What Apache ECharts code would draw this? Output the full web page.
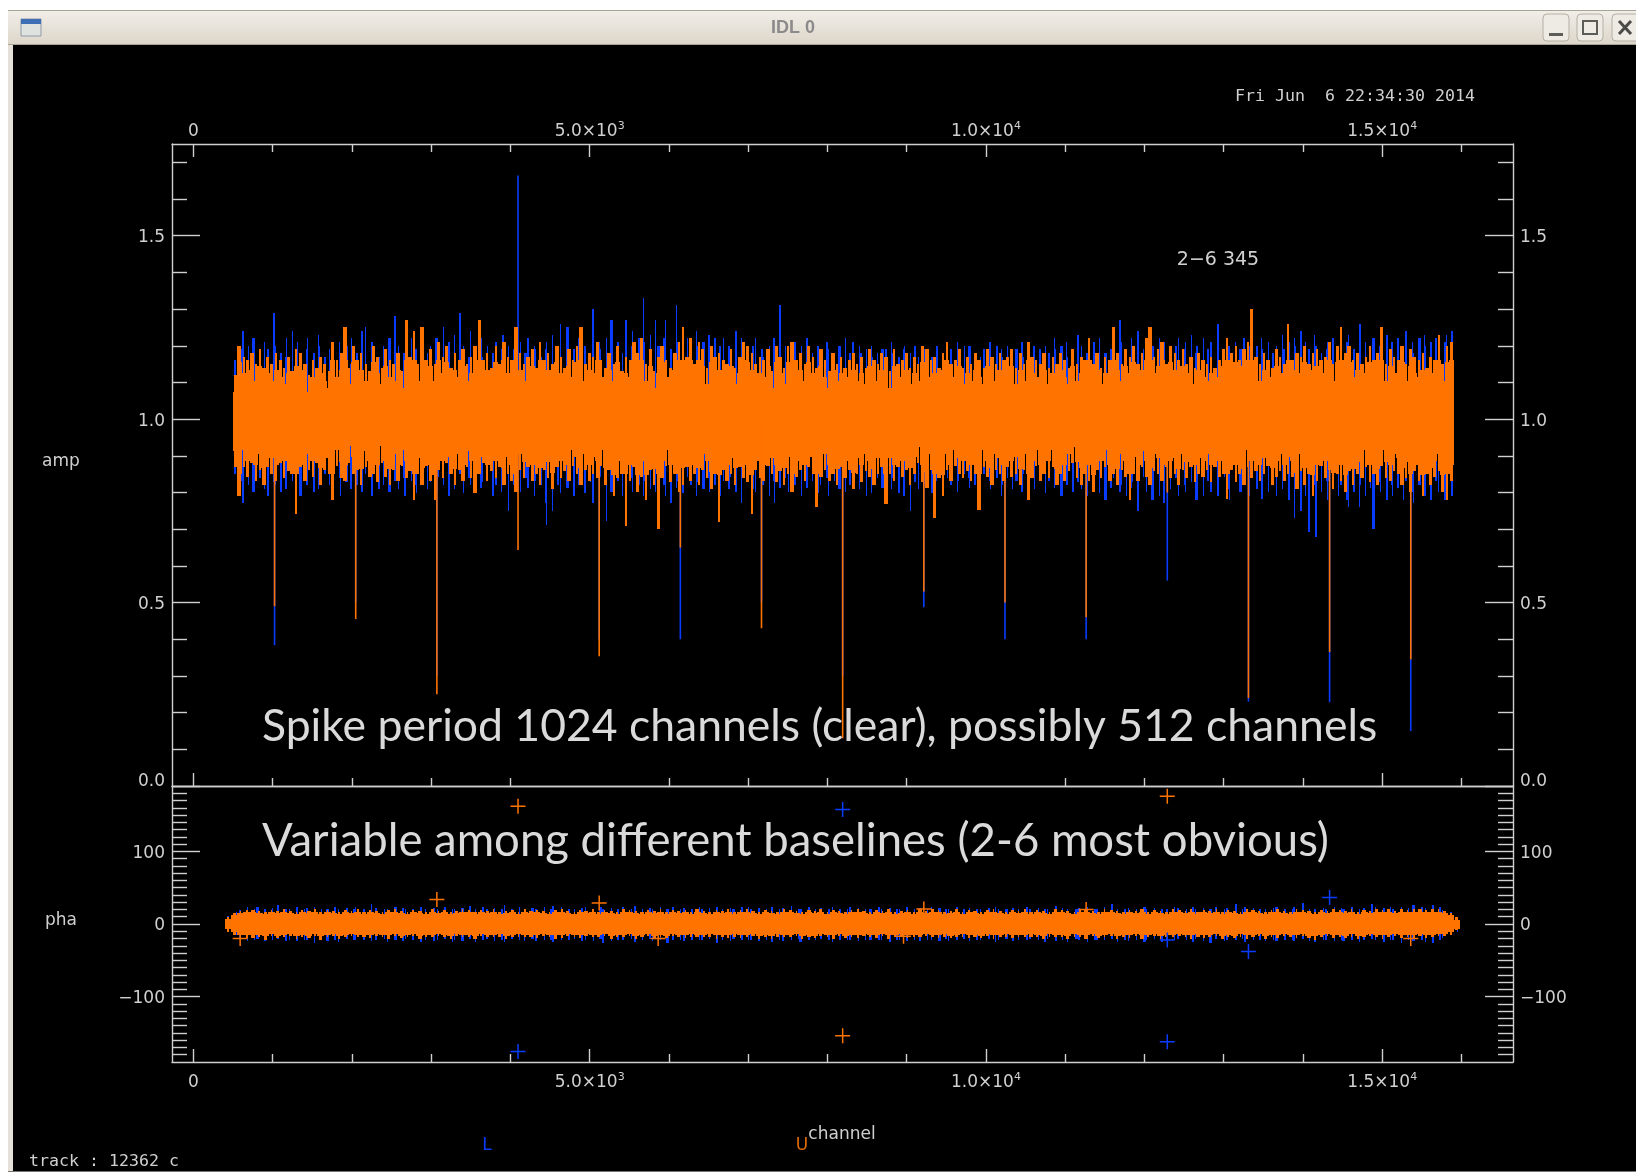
<!DOCTYPE html>
<html><head><meta charset="utf-8"><title>IDL 0</title>
<script src="https://cdn.jsdelivr.net/npm/echarts@6/dist/echarts.min.js"></script>
<style>html,body{margin:0;padding:0;background:#fff}#c{width:1636px;height:1172px}</style>
</head><body><div id="c"></div>
<script>
// ---- axis ranges and ticks ----
const channelRange = [-270, 16650];
const ampRange = [0, 1.75];
const phaRange = [-190, 190];
const channelMajor = [0, 5000, 10000, 15000];
const channelMajorAmpBottom = [0, 15000];
const channelMinor = [1000,2000,3000,4000,6000,7000,8000,9000,11000,12000,13000,14000,16000];
const ampMajor = [0, 0.5, 1, 1.5];
const ampMinor = [0.1,0.2,0.3,0.4,0.6,0.7,0.8,0.9,1.1,1.2,1.3,1.4,1.6,1.7];
const phaMajor = [-100, 0, 100];
const phaMinor = [-180,-170,-160,-150,-140,-130,-120,-110,-90,-80,-70,-60,-50,-40,-30,-20,-10,10,20,30,40,50,60,70,80,90,110,120,130,140,150,160,170,180];

// ---- amp envelope columns (one column every ampStep channels) ----
const ampStart = 530, ampStep = 51.3;
const ampShoulder = [0.85, 1.16];
const ampTip = 0.045;
const orangeHigh = [
1.12,1.20,1.17,1.16,1.18,1.15,1.19,1.14,1.17,1.15,1.18,1.16,1.14,1.17,1.13,1.19,1.18,1.15,1.12,1.16,
1.14,1.17,1.15,1.13,1.21,1.16,1.18,1.25,1.14,1.20,1.16,1.18,1.15,1.13,1.20,1.17,1.14,1.19,1.16,1.15,
1.18,1.13,1.27,1.17,1.24,1.15,1.25,1.16,1.19,1.15,1.21,1.17,1.20,1.14,1.18,1.16,1.19,1.15,1.17,1.20,
1.27,1.16,1.18,1.14,1.20,1.15,1.21,1.17,1.16,1.25,1.18,1.15,1.17,1.19,1.14,1.21,1.16,1.18,1.15,1.20,
1.17,1.14,1.19,1.16,1.20,1.25,1.15,1.18,1.17,1.21,1.16,1.14,1.18,1.15,1.20,1.13,1.17,1.16,1.21,1.18,
1.22,1.15,1.19,1.13,1.17,1.20,1.16,1.14,1.18,1.21,1.25,1.17,1.22,1.15,1.21,1.19,1.14,1.20,1.17,1.18,
1.16,1.15,1.19,1.14,1.17,1.21,1.20,1.18,1.15,1.17,1.16,1.19,1.13,1.20,1.17,1.14,1.20,1.21,1.16,1.18,
1.15,1.20,1.17,1.14,1.19,1.16,1.13,1.18,1.15,1.17,1.14,1.16,1.18,1.15,1.17,1.14,1.19,1.16,1.15,1.18,
1.17,1.13,1.19,1.15,1.16,1.18,1.14,1.17,1.15,1.20,1.19,1.16,1.17,1.14,1.18,1.21,1.15,1.16,1.19,1.14,
1.17,1.15,1.18,1.16,1.14,1.19,1.17,1.15,1.18,1.16,1.17,1.19,1.14,1.18,1.15,1.21,1.17,1.16,1.15,1.18,
1.14,1.17,1.15,1.18,1.16,1.14,1.19,1.15,1.17,1.16,1.22,1.15,1.18,1.14,1.17,1.16,1.25,1.18,1.15,1.19,
1.17,1.20,1.15,1.18,1.22,1.25,1.17,1.19,1.21,1.15,1.20,1.18,1.16,1.19,1.15,1.17,1.14,1.18,1.16,1.15,
1.17,1.14,1.16,1.19,1.22,1.18,1.20,1.16,1.19,1.21,1.30,1.17,1.15,1.18,1.16,1.14,1.19,1.17,1.15,1.26,
1.16,1.18,1.17,1.20,1.15,1.18,1.19,1.16,1.17,1.21,1.15,1.20,1.25,1.18,1.20,1.16,1.18,1.15,1.17,1.20,
1.16,1.18,1.25,1.15,1.19,1.17,1.16,1.20,1.15,1.19,1.17,1.16,1.18,1.14,1.17,1.16,1.23,1.15,1.20,1.21];
const orangeLow = [
0.87,0.79,0.87,0.84,0.88,0.83,0.86,0.82,0.87,0.85,0.83,0.88,0.84,0.86,0.85,0.74,0.87,0.83,0.86,0.84,
0.88,0.82,0.86,0.85,0.78,0.87,0.84,0.83,0.88,0.85,0.86,0.82,0.87,0.84,0.85,0.83,0.88,0.84,0.82,0.86,
0.83,0.87,0.84,0.86,0.78,0.85,0.82,0.87,0.83,0.78,0.86,0.84,0.88,0.85,0.82,0.86,0.83,0.87,0.84,0.80,
0.85,0.88,0.83,0.86,0.84,0.87,0.82,0.85,0.83,0.80,0.86,0.84,0.87,0.83,0.85,0.82,0.86,0.84,0.81,0.87,
0.84,0.86,0.83,0.87,0.85,0.82,0.86,0.83,0.85,0.84,0.87,0.82,0.86,0.79,0.84,0.85,0.71,0.83,0.87,0.80,
0.84,0.78,0.86,0.82,0.70,0.84,0.87,0.83,0.85,0.80,0.82,0.87,0.83,0.85,0.82,0.86,0.84,0.81,0.85,0.72,
0.86,0.83,0.85,0.82,0.87,0.84,0.83,0.74,0.86,0.84,0.83,0.87,0.85,0.83,0.86,0.82,0.85,0.80,0.84,0.86,
0.83,0.87,0.85,0.76,0.84,0.86,0.83,0.85,0.82,0.87,0.84,0.86,0.81,0.85,0.83,0.86,0.84,0.82,0.85,0.87,
0.77,0.85,0.83,0.87,0.84,0.86,0.82,0.85,0.88,0.83,0.81,0.86,0.73,0.84,0.79,0.86,0.83,0.87,0.85,0.84,
0.86,0.83,0.85,0.75,0.87,0.84,0.82,0.86,0.85,0.83,0.87,0.84,0.85,0.82,0.86,0.78,0.84,0.87,0.83,0.85,
0.84,0.87,0.82,0.85,0.83,0.86,0.88,0.84,0.82,0.85,0.83,0.80,0.86,0.84,0.87,0.83,0.85,0.82,0.86,0.84,
0.78,0.85,0.83,0.87,0.84,0.82,0.86,0.85,0.83,0.87,0.84,0.85,0.82,0.86,0.84,0.87,0.83,0.85,0.84,0.86,
0.83,0.87,0.84,0.85,0.78,0.86,0.83,0.85,0.82,0.87,0.84,0.86,0.83,0.85,0.87,0.82,0.84,0.86,0.83,0.85,
0.84,0.81,0.86,0.82,0.85,0.79,0.83,0.87,0.84,0.86,0.81,0.85,0.83,0.80,0.86,0.82,0.85,0.84,0.87,0.83,
0.85,0.82,0.87,0.84,0.83,0.86,0.85,0.82,0.84,0.80,0.86,0.83,0.79,0.85,0.82,0.84,0.86,0.80,0.78,0.83];
const blueHigh = [
1.16,1.19,1.24,1.20,1.18,1.22,1.17,1.21,1.19,1.29,1.20,1.18,1.22,1.17,1.24,1.21,1.16,1.19,1.22,1.18,
1.20,1.23,1.17,1.19,1.16,1.21,1.18,1.20,1.15,1.22,1.18,1.24,1.25,1.21,1.19,1.17,1.20,1.16,1.22,1.28,
1.20,1.18,1.16,1.22,1.19,1.17,1.21,1.18,1.20,1.22,1.19,1.25,1.21,1.18,1.23,1.29,1.20,1.17,1.24,1.19,
1.17,1.22,1.20,1.18,1.21,1.19,1.23,1.20,1.17,1.19,1.21,1.18,1.22,1.20,1.19,1.17,1.21,1.19,1.23,1.20,
1.26,1.21,1.25,1.19,1.22,1.18,1.20,1.17,1.30,1.21,1.19,1.22,1.20,1.27,1.21,1.18,1.27,1.20,1.24,1.22,
1.33,1.21,1.23,1.27,1.20,1.22,1.27,1.19,1.21,1.31,1.20,1.22,1.18,1.24,1.20,1.21,1.23,1.19,1.22,1.20,
1.22,1.20,1.19,1.24,1.22,1.21,1.18,1.20,1.22,1.19,1.17,1.20,1.22,1.19,1.31,1.20,1.18,1.21,1.19,1.20,
1.22,1.19,1.18,1.20,1.17,1.21,1.19,1.18,1.20,1.19,1.22,1.18,1.21,1.20,1.18,1.19,1.17,1.20,1.18,1.19,
1.19,1.21,1.18,1.17,1.20,1.19,1.18,1.20,1.17,1.19,1.18,1.17,1.19,1.20,1.18,1.17,1.19,1.21,1.18,1.20,
1.19,1.20,1.18,1.17,1.19,1.21,1.18,1.20,1.19,1.17,1.20,1.18,1.19,1.21,1.17,1.19,1.20,1.18,1.19,1.20,
1.18,1.22,1.19,1.20,1.17,1.21,1.18,1.23,1.20,1.18,1.19,1.21,1.20,1.22,1.18,1.19,1.24,1.27,1.21,1.19,
1.20,1.22,1.24,1.19,1.21,1.18,1.20,1.22,1.19,1.21,1.18,1.20,1.22,1.19,1.21,1.23,1.18,1.20,1.22,1.19,
1.21,1.23,1.26,1.19,1.20,1.18,1.21,1.19,1.22,1.20,1.18,1.20,1.22,1.19,1.21,1.18,1.20,1.23,1.19,1.21,
1.22,1.20,1.24,1.21,1.19,1.23,1.20,1.18,1.21,1.19,1.22,1.20,1.18,1.21,1.23,1.19,1.20,1.26,1.21,1.19,
1.22,1.20,1.18,1.23,1.21,1.19,1.22,1.20,1.24,1.21,1.18,1.22,1.20,1.23,1.21,1.22,1.19,1.21,1.23,1.24];
const blueLow = [
0.85,0.83,0.77,0.82,0.85,0.80,0.84,0.81,0.79,0.83,0.82,0.80,0.84,0.81,0.83,0.85,0.79,0.82,0.84,0.80,
0.83,0.81,0.85,0.82,0.80,0.84,0.79,0.83,0.81,0.84,0.82,0.80,0.85,0.79,0.83,0.81,0.84,0.82,0.80,0.83,
0.81,0.84,0.79,0.83,0.82,0.80,0.85,0.81,0.83,0.80,0.84,0.82,0.79,0.83,0.81,0.85,0.80,0.84,0.82,0.80,
0.83,0.81,0.84,0.79,0.82,0.80,0.84,0.75,0.82,0.83,0.80,0.84,0.81,0.79,0.83,0.82,0.71,0.77,0.75,0.82,
0.80,0.83,0.81,0.79,0.84,0.82,0.80,0.83,0.77,0.81,0.84,0.72,0.82,0.80,0.83,0.79,0.81,0.84,0.80,0.82,
0.79,0.83,0.81,0.80,0.84,0.82,0.79,0.77,0.83,0.81,0.80,0.84,0.82,0.79,0.83,0.81,0.84,0.80,0.82,0.79,
0.83,0.81,0.84,0.80,0.82,0.77,0.83,0.81,0.80,0.84,0.82,0.79,0.83,0.77,0.81,0.84,0.80,0.82,0.83,0.79,
0.84,0.81,0.83,0.80,0.82,0.84,0.79,0.83,0.81,0.84,0.80,0.82,0.83,0.81,0.84,0.79,0.82,0.80,0.84,0.81,
0.83,0.81,0.84,0.80,0.82,0.79,0.75,0.83,0.81,0.84,0.82,0.80,0.83,0.85,0.81,0.84,0.82,0.80,0.83,0.85,
0.81,0.84,0.82,0.80,0.85,0.83,0.81,0.84,0.79,0.82,0.84,0.81,0.83,0.80,0.85,0.82,0.84,0.81,0.83,0.80,
0.83,0.81,0.84,0.79,0.82,0.85,0.80,0.83,0.81,0.79,0.84,0.82,0.80,0.83,0.78,0.81,0.84,0.80,0.82,0.79,
0.83,0.81,0.75,0.84,0.80,0.78,0.82,0.79,0.83,0.77,0.81,0.84,0.79,0.82,0.80,0.83,0.78,0.81,0.79,0.83,
0.80,0.82,0.79,0.84,0.81,0.78,0.83,0.80,0.82,0.79,0.84,0.81,0.83,0.78,0.80,0.82,0.79,0.81,0.83,0.78,
0.73,0.81,0.75,0.79,0.69,0.82,0.68,0.80,0.78,0.83,0.81,0.79,0.82,0.78,0.76,0.80,0.76,0.82,0.79,0.81,
0.70,0.83,0.80,0.78,0.82,0.79,0.81,0.78,0.83,0.80,0.77,0.82,0.79,0.81,0.78,0.83,0.80,0.78,0.81,0.79];

// ---- periodic spikes ----
const spikeChannels   = [1024,2048,3072,4096,5120,6144,7168,8192,9216,10240,11264,12288,13312,14336,15360];
const orangeSpikeLow  = [0.49,0.455,0.25,0.643,0.354,0.65,0.43,0.13,0.53,0.50,0.46,0.80,0.24,0.365,0.345];
const blueSpikeLow    = [0.384,0.50,0.30,0.80,0.40,0.40,0.50,0.30,0.487,0.40,0.40,0.56,0.23,0.228,0.15];
const blueSpikeHighChannel = 4096, blueSpikeHighValue = 1.664;

// ---- phase envelope columns ----
const phaStart = 440, phaStep = 77.9;
const phaShoulder = [-16, 16];
const phaTip = 3;
const phaOrangeHigh = [
10,15,18,19,19,18,17,19,18,20,18,17,19,18,20,17,19,18,17,19,
18,20,17,19,18,17,19,20,18,17,19,18,17,20,18,19,17,18,20,19,
17,19,18,20,17,18,19,17,20,18,19,18,17,19,21,18,17,19,18,20,
17,19,18,17,20,19,18,17,19,18,20,17,19,18,19,17,20,18,17,19,
18,20,17,19,21,18,17,19,18,17,20,19,18,17,19,18,20,17,19,18,
17,19,20,18,17,19,18,20,17,18,19,17,20,18,21,19,17,18,20,17,
19,18,17,19,20,18,17,19,18,20,17,19,18,17,20,19,18,17,19,21,
18,17,20,19,18,17,19,18,20,17,19,18,17,20,19,18,21,17,19,18,
20,17,19,18,17,20,19,18,17,19,21,18,17,20,19,18,17,19,18,20,
19,18,21,17,19,18,20,19,21,18,20,19,21,20,19,21,20,18,15,9];
const phaOrangeLow = [
-10,-15,-18,-19,-20,-18,-22,-17,-19,-18,-17,-20,-18,-19,-17,-21,-18,-17,-20,-18,
-17,-19,-18,-20,-17,-18,-21,-17,-19,-18,-17,-20,-18,-19,-17,-18,-20,-17,-19,-18,
-20,-17,-18,-19,-17,-21,-18,-17,-19,-18,-20,-17,-18,-21,-19,-17,-18,-20,-17,-19,
-18,-17,-20,-18,-19,-17,-21,-18,-17,-20,-18,-19,-17,-18,-20,-17,-19,-18,-17,-21,
-18,-20,-17,-19,-18,-17,-20,-18,-21,-17,-19,-18,-17,-20,-18,-19,-17,-18,-21,-17,
-19,-18,-20,-17,-18,-19,-17,-21,-18,-17,-20,-18,-19,-17,-18,-20,-17,-19,-18,-17,
-20,-18,-19,-17,-21,-18,-17,-20,-18,-19,-17,-18,-20,-17,-19,-18,-21,-17,-18,-20,
-17,-19,-18,-17,-20,-18,-19,-17,-21,-18,-17,-20,-18,-19,-17,-18,-20,-17,-19,-18,
-17,-20,-18,-19,-17,-21,-18,-17,-20,-18,-19,-17,-18,-20,-17,-19,-21,-18,-17,-20,
-18,-19,-17,-20,-18,-17,-19,-21,-18,-17,-20,-18,-19,-17,-20,-18,-17,-17,-15,-9];
const phaBlueHigh = [
11,16,19,24,21,23,20,22,26,21,20,23,21,22,24,20,21,23,21,22,
20,23,21,27,22,20,21,23,22,20,21,24,21,22,20,23,21,20,22,25,
21,23,20,22,21,26,20,23,21,22,20,23,21,25,23,21,20,22,24,21,
23,20,22,21,23,20,25,21,22,20,23,21,24,20,22,21,23,20,22,24,
21,22,20,23,24,21,22,20,23,21,22,25,20,21,23,20,22,21,23,21,
20,23,22,21,20,23,21,22,20,21,23,20,22,21,24,22,20,21,23,20,
22,21,20,22,23,21,20,22,21,23,20,22,21,20,25,22,21,20,22,24,
21,20,23,27,21,20,22,21,23,20,22,21,20,23,22,21,24,20,22,21,
23,20,22,27,20,23,22,21,20,22,24,21,20,23,29,21,20,22,21,23,
22,21,24,20,22,27,23,22,24,21,23,22,26,24,22,26,24,19,16,10];
const phaBlueLow = [
-11,-16,-19,-23,-22,-21,-24,-22,-21,-23,-22,-24,-21,-22,-25,-21,-23,-22,-24,-21,
-22,-23,-21,-24,-22,-21,-25,-22,-23,-21,-22,-24,-21,-23,-22,-21,-24,-22,-23,-21,
-24,-22,-21,-23,-22,-25,-21,-22,-23,-21,-24,-22,-21,-25,-23,-22,-21,-24,-22,-23,
-21,-27,-24,-22,-23,-21,-25,-22,-21,-24,-22,-26,-21,-22,-24,-21,-23,-22,-21,-25,
-22,-24,-21,-23,-22,-21,-24,-22,-25,-21,-23,-22,-21,-24,-22,-23,-21,-22,-25,-21,
-23,-22,-24,-21,-22,-23,-21,-25,-22,-21,-24,-22,-23,-21,-22,-24,-21,-23,-22,-21,
-24,-22,-23,-21,-25,-22,-21,-24,-22,-23,-21,-22,-24,-21,-23,-22,-25,-21,-22,-24,
-21,-23,-22,-21,-24,-22,-23,-21,-25,-22,-21,-24,-22,-23,-21,-22,-24,-21,-23,-26,
-21,-24,-22,-23,-21,-25,-22,-21,-24,-22,-23,-21,-22,-24,-21,-23,-25,-22,-21,-24,
-22,-23,-21,-26,-22,-21,-23,-25,-22,-21,-26,-22,-23,-21,-25,-27,-21,-19,-16,-10];

// ---- phase outliers (+ markers) ----
const orangeCrossChannels = [590,3072,4096,5120,5864,8192,8960,9216,11264,12288,15360];
const orangeCrossValues   = [-20,33.6,162,29,-20,-154,-17,20.6,20,176,-20];
const blueCrossChannels   = [4096,8192,12288,12288,13312,14336];
const blueCrossValues     = [-175.6,157.7,-162,-22,-38,36.5];

// ---- labels ----
const annotationAmp = 'Spike period 1024 channels (clear), possibly 512 channels';
const annotationPha = 'Variable among different baselines (2-6 most obvious)';
const dateText = 'Fri Jun  6 22:34:30 2014';
const baselineText = '2\u22126 345';
const trackText = 'track : 12362 c';
const channelLabels = {0:'{b|0}',5000:'{b|5.0\u00d710}{s|3}',10000:'{b|1.0\u00d710}{s|4}',15000:'{b|1.5\u00d710}{s|4}'};

// ---- styles ----
const BLUE='#0a3cff', ORANGE='#ff7300', AXIS='#cfcfcf', TXT='#d0d0d0';
const FONT='"DejaVu Sans"', MONO='"DejaVu Sans Mono"', TICKFONT=17;
// tip widths and offsets vary along the band so its edge does not read as a comb
const orangeTipWidths=[3,4,2,3,4,2,2,4,3,3,2,3,2];
const blueWidths=[2,1,2,1,1,3,2,1,2,2,1];
const blueOffsets=[0,2,-1,1,2,-2,0,1];
const phaTipWidths=[2,3,1,2,4,2,3,1,3];

const rich={b:{fontFamily:FONT,fontSize:TICKFONT,color:TXT,lineHeight:22},s:{fontFamily:FONT,fontSize:11,color:TXT,verticalAlign:'top',lineHeight:14},
  m:{fontFamily:FONT,fontSize:TICKFONT,color:TXT,lineHeight:8}};
function xAx(grid,pos,ticks,len,line,labels,margin){
  return {type:'value',gridIndex:grid,position:pos,min:channelRange[0],max:channelRange[1],
    splitLine:{show:false},
    axisLine:{show:line,onZero:false,lineStyle:{color:AXIS,width:1.4}},
    axisTick:{show:!!ticks,inside:true,length:len,customValues:ticks||[],lineStyle:{color:AXIS,width:1.4}},
    axisLabel:labels?{show:true,customValues:channelMajor,margin:margin,rich:rich,hideOverlap:false,showMinLabel:true,showMaxLabel:true,formatter:v=>channelLabels[v]}:{show:false}};
}
function yAx(grid,pos,range,ticks,len,line,labelFn){
  return {type:'value',gridIndex:grid,position:pos,min:range[0],max:range[1],
    splitLine:{show:false},
    axisLine:{show:line,onZero:false,lineStyle:{color:AXIS,width:1.4}},
    axisTick:{show:true,inside:true,length:len,customValues:ticks,lineStyle:{color:AXIS,width:1.4}},
    axisLabel:labelFn?{show:true,customValues:ticks,margin:7,padding:[4,0,0,0],color:TXT,fontFamily:FONT,fontSize:TICKFONT,rich:rich,formatter:labelFn,hideOverlap:false,showMinLabel:true,showMaxLabel:true,verticalAlignMinLabel:range[0]===0?'bottom':undefined}:{show:false}};
}
const ampFmt=v=>v===0?'{m|0.0}':v.toFixed(1), phaFmt=v=>String(v).replace('-','\u2212');
const ampBox={left:172,top:144,width:1341,height:642}, phaBox={left:172,top:786,width:1341,height:276};

function pick(list,i){return list?list[i%list.length]:null;}
function bar(color,width,offsets,widths,crisp){
  return function(params,api){
    const a=api.coord([api.value(0),api.value(1)]), b=api.coord([api.value(0),api.value(2)]);
    const i=params.dataIndex, w=widths?pick(widths,i):width, off=offsets?pick(offsets,i):0;
    let x=a[0]+off-w/2, y=b[1], h=a[1]-b[1];
    if(crisp){x=Math.round(x);y=Math.round(y);h=Math.round(h);}
    return {type:'rect',shape:{x:x,y:y,width:w,height:h},style:{fill:color}};
  };
}
function columns(color,width,xi,yi,data,offsets,widths,crisp){
  return {type:'custom',xAxisIndex:xi,yAxisIndex:yi,silent:true,animation:false,clip:false,
    renderItem:bar(color,width,offsets,widths,crisp),encode:{x:0,y:[1,2]},data:data};
}
const ampCols=(lo,hi)=>lo.map((v,i)=>[ampStart+i*ampStep,v,hi[i]]);
const phaCols=(lo,hi)=>lo.map((v,i)=>[phaStart+i*phaStep,v,hi[i]]);
// solid body of each column: the envelope pulled in by a tip length and capped at the shoulder
const ampBody=orangeLow.map((v,i)=>[ampStart+i*ampStep,Math.max(v+ampTip,ampShoulder[0]),Math.min(orangeHigh[i]-ampTip,ampShoulder[1])]);
const phaBody=phaOrangeLow.map((v,i)=>[phaStart+i*phaStep,Math.max(v+phaTip,phaShoulder[0]),Math.min(phaOrangeHigh[i]-phaTip,phaShoulder[1])]);
const orangeSpikes=spikeChannels.map((c,i)=>[c,orangeSpikeLow[i],1]);
const blueSpikes=spikeChannels.map((c,i)=>[c,blueSpikeLow[i],1]).concat([[blueSpikeHighChannel,1,blueSpikeHighValue]]);
const PLUS='path://M9 0h2v9h9v2h-9v9h-2v-9h-9v-2h9z';
function crosses(color,ch,val){
  return {type:'scatter',xAxisIndex:4,yAxisIndex:4,symbol:PLUS,symbolSize:15,silent:true,z:4,animation:false,
    itemStyle:{color:color,opacity:1},data:ch.map((c,i)=>[c,val[i]])};
}
function txt(text,x,y,o){
  return {type:'text',x:x,y:y,z:100,silent:true,style:Object.assign({text:text,fill:TXT,font:TICKFONT+'px '+FONT,textAlign:'center',textVerticalAlign:'middle'},o||{})};
}
const chrome=[
 {type:'rect',z:50,shape:{x:0,y:0,width:1636,height:10},style:{fill:'#fff'}},
 {type:'rect',z:50,shape:{x:0,y:0,width:8,height:1172},style:{fill:'#fff'}},
 {type:'rect',z:50,shape:{x:8,y:10,width:5,height:1162},style:{fill:'#e6e1d8'}},
 {type:'rect',z:50,shape:{x:8,y:1171,width:1628,height:1},style:{fill:'#777'}},
 {type:'rect',z:51,shape:{x:8,y:10,width:1628,height:35,r:[3,0,0,0]},
  style:{fill:new echarts.graphic.LinearGradient(0,0,0,1,[{offset:0,color:'#f2efe9'},{offset:1,color:'#dcd5c9'}])}},
 {type:'rect',z:52,shape:{x:8,y:10,width:1628,height:1},style:{fill:'#a9a498'}},
 {type:'rect',z:52,shape:{x:8,y:44,width:1628,height:1},style:{fill:'#a9a294'}},
 {type:'rect',z:52,shape:{x:21,y:19,width:20,height:17},style:{fill:'#dfe3df',stroke:'#8f9aa5',lineWidth:1}},
 {type:'rect',z:53,shape:{x:21,y:19,width:20,height:5},style:{fill:'#3c6fb4'}},
 {type:'rect',z:52,shape:{x:1543,y:14,width:26,height:27,r:4},style:{fill:'#eeebe5',stroke:'#b5afa3',lineWidth:1}},
 {type:'rect',z:53,shape:{x:1549,y:33,width:14,height:3},style:{fill:'#5c5c58'}},
 {type:'rect',z:52,shape:{x:1577,y:14,width:26,height:27,r:4},style:{fill:'#eeebe5',stroke:'#b5afa3',lineWidth:1}},
 {type:'rect',z:53,shape:{x:1583,y:21,width:14,height:13},style:{fill:'none',stroke:'#5c5c58',lineWidth:2}},
 {type:'rect',z:52,shape:{x:1612,y:14,width:30,height:27,r:4},style:{fill:'#eeebe5',stroke:'#b5afa3',lineWidth:1}},
 {type:'line',z:53,shape:{x1:1619,y1:21,x2:1631,y2:34},style:{stroke:'#4a4a48',lineWidth:3}},
 {type:'line',z:53,shape:{x1:1631,y1:21,x2:1619,y2:34},style:{stroke:'#4a4a48',lineWidth:3}},
 txt('IDL 0',793,28,{fill:'#8b8b8b',font:'bold 18px "Liberation Sans"'}),
 txt(dateText,1355,97,{font:'16.6px '+MONO}),
 txt(baselineText,1218,260,{font:'19px '+FONT}),
 txt('amp',61,462),txt('pha',61,921),txt('channel',842,1135),
 txt('L',487,1146,{fill:BLUE,font:'17px '+FONT}),txt('U',802,1146,{fill:'#e06a00',font:'17px '+FONT}),
 txt(trackText,104,1162,{font:'16.6px '+MONO}),
 txt(annotationAmp,262,727,{textAlign:'left',font:'400 44.5px Lato',fill:'#dadada'}),
 txt(annotationPha,262,841,{textAlign:'left',font:'400 45.5px Lato',fill:'#dadada'})
];
const chart=echarts.init(document.getElementById('c'),null,{renderer:'canvas'});
chart.setOption({
  backgroundColor:'#000',animation:false,tooltip:{show:false},legend:{show:false},
  grid:[ampBox,ampBox,phaBox,phaBox],
  xAxis:[
    xAx(0,'bottom',channelMajorAmpBottom,13,true,false),
    xAx(0,'top',channelMajor,13,true,true,1),
    xAx(1,'bottom',channelMinor,8,false,false),
    xAx(1,'top',channelMinor,8,false,false),
    xAx(2,'bottom',channelMajor,13,true,true,10),
    xAx(2,'top',null,0,true,false),
    xAx(3,'bottom',channelMinor,8,false,false)
  ],
  yAxis:[
    yAx(0,'left',ampRange,ampMajor,28,true,ampFmt),
    yAx(0,'right',ampRange,ampMajor,28,true,ampFmt),
    yAx(1,'left',ampRange,ampMinor,15,false),
    yAx(1,'right',ampRange,ampMinor,15,false),
    yAx(2,'left',phaRange,phaMajor,28,true,phaFmt),
    yAx(2,'right',phaRange,phaMajor,28,true,phaFmt),
    yAx(3,'left',phaRange,phaMinor,15,false),
    yAx(3,'right',phaRange,phaMinor,15,false)
  ],
  series:[
    columns(BLUE,1.6,0,0,blueSpikes),
    columns(BLUE,2,0,0,ampCols(blueLow,blueHigh),blueOffsets,blueWidths,true),
    columns(ORANGE,5,0,0,ampBody,null,null,true),
    columns(ORANGE,2,0,0,ampCols(orangeLow,orangeHigh),null,orangeTipWidths,true),
    columns(ORANGE,1.6,0,0,orangeSpikes),
    columns(BLUE,2,4,4,phaCols(phaBlueLow,phaBlueHigh),blueOffsets,blueWidths,true),
    columns(ORANGE,7,4,4,phaBody,null,null,true),
    columns(ORANGE,2,4,4,phaCols(phaOrangeLow,phaOrangeHigh),null,phaTipWidths,true),
    crosses(ORANGE,orangeCrossChannels,orangeCrossValues),
    crosses(BLUE,blueCrossChannels,blueCrossValues)
  ],
  graphic:{elements:chrome}
});
</script></body></html>
